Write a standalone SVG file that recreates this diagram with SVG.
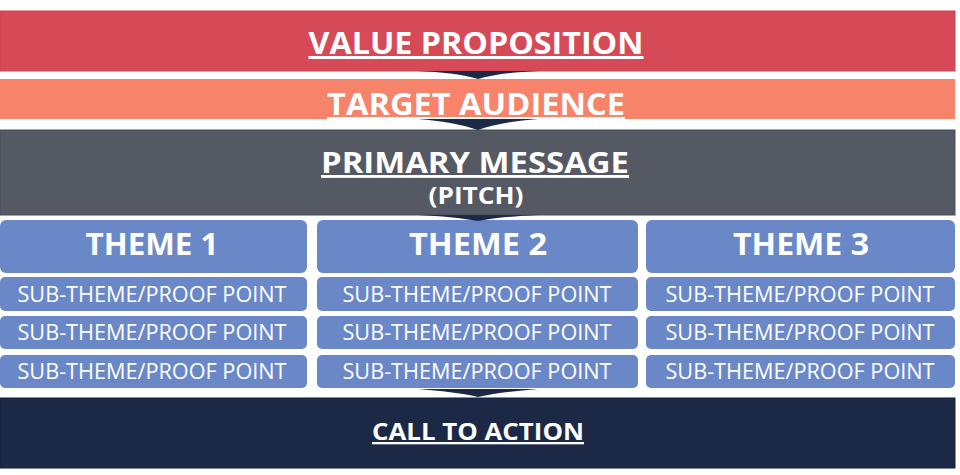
<svg xmlns="http://www.w3.org/2000/svg" width="960" height="475" viewBox="0 0 960 475">
<style>
.h{font-family:"Open Sans","Liberation Sans",sans-serif;font-weight:700;fill:#fff;text-anchor:middle;text-decoration:underline}
.p{font-family:"Open Sans","Liberation Sans",sans-serif;font-weight:700;fill:#fff;text-anchor:middle}
.t{font-family:"Open Sans","Liberation Sans",sans-serif;font-weight:700;fill:#fff;text-anchor:middle;font-size:30px}
.s{font-family:"Open Sans","Liberation Sans",sans-serif;font-weight:400;fill:#fff;text-anchor:middle;font-size:21px}
.box{fill:#6a88c8}
.chev{fill:#1c2946}
</style>
<rect width="960" height="475" fill="#fff"/>
<g id="value-proposition">
<rect x="0" y="11" width="955" height="60" fill="#d64a58" stroke="#cf3f4e" stroke-width="1"/>
<text class="h" x="476" y="54" font-size="30" textLength="335" lengthAdjust="spacingAndGlyphs">VALUE PROPOSITION</text>
</g>
<g id="target-audience">
<rect x="0" y="79" width="955" height="40" fill="#f7836b"/>
<text class="h" x="476" y="115" font-size="30" textLength="298" lengthAdjust="spacingAndGlyphs">TARGET AUDIENCE</text>
</g>
<g id="primary-message">
<rect x="0" y="130" width="955" height="85" fill="#555964" stroke="#4a4e58" stroke-width="1"/>
<text class="h" x="475" y="173" font-size="29" textLength="308" lengthAdjust="spacingAndGlyphs">PRIMARY MESSAGE</text>
<text class="p" x="476" y="204" font-size="23" textLength="95" lengthAdjust="spacingAndGlyphs">(PITCH)</text>
</g>
<g id="theme-1">
<rect class="box" x="0" y="220" width="307" height="53" rx="6"/>
<text class="t" x="152" y="255" textLength="133" lengthAdjust="spacingAndGlyphs">THEME 1</text>
</g>
<g id="theme-2">
<rect class="box" x="317" y="220" width="321" height="53" rx="6"/>
<text class="t" x="478" y="255" textLength="138" lengthAdjust="spacingAndGlyphs">THEME 2</text>
</g>
<g id="theme-3">
<rect class="box" x="646" y="220" width="309" height="53" rx="6"/>
<text class="t" x="801" y="255" textLength="136" lengthAdjust="spacingAndGlyphs">THEME 3</text>
</g>
<g id="sub-1-1"><rect class="box" x="0" y="277" width="307" height="34" rx="5"/><text class="s" x="152" y="302" textLength="269" lengthAdjust="spacingAndGlyphs">SUB-THEME/PROOF POINT</text></g>
<g id="sub-1-2"><rect class="box" x="0" y="316" width="307" height="33" rx="5"/><text class="s" x="152" y="340" textLength="269" lengthAdjust="spacingAndGlyphs">SUB-THEME/PROOF POINT</text></g>
<g id="sub-1-3"><rect class="box" x="0" y="355" width="307" height="33" rx="5"/><text class="s" x="152" y="379" textLength="269" lengthAdjust="spacingAndGlyphs">SUB-THEME/PROOF POINT</text></g>
<g id="sub-2-1"><rect class="box" x="317" y="277" width="321" height="34" rx="5"/><text class="s" x="477" y="302" textLength="269" lengthAdjust="spacingAndGlyphs">SUB-THEME/PROOF POINT</text></g>
<g id="sub-2-2"><rect class="box" x="317" y="316" width="321" height="33" rx="5"/><text class="s" x="477" y="340" textLength="269" lengthAdjust="spacingAndGlyphs">SUB-THEME/PROOF POINT</text></g>
<g id="sub-2-3"><rect class="box" x="317" y="355" width="321" height="33" rx="5"/><text class="s" x="477" y="379" textLength="269" lengthAdjust="spacingAndGlyphs">SUB-THEME/PROOF POINT</text></g>
<g id="sub-3-1"><rect class="box" x="646" y="277" width="309" height="34" rx="5"/><text class="s" x="800" y="302" textLength="269" lengthAdjust="spacingAndGlyphs">SUB-THEME/PROOF POINT</text></g>
<g id="sub-3-2"><rect class="box" x="646" y="316" width="309" height="33" rx="5"/><text class="s" x="800" y="340" textLength="269" lengthAdjust="spacingAndGlyphs">SUB-THEME/PROOF POINT</text></g>
<g id="sub-3-3"><rect class="box" x="646" y="355" width="309" height="33" rx="5"/><text class="s" x="800" y="379" textLength="269" lengthAdjust="spacingAndGlyphs">SUB-THEME/PROOF POINT</text></g>
<g id="call-to-action">
<rect x="0" y="398" width="955" height="70" fill="#1c2946" stroke="#141f38" stroke-width="1"/>
<text class="h" x="478" y="440" font-size="23" textLength="212" lengthAdjust="spacingAndGlyphs">CALL TO ACTION</text>
</g>
<g id="connectors">
<path class="chev" d="M418,71 L538,71 C515,72 495,74 478,79 C461,74 441,72 418,71 Z"/>
<path class="chev" d="M418,119 L538,119 C515,121 495,124 478,130 C461,124 441,121 418,119 Z"/>
<path class="chev" d="M418,215 L538,215 C515,216 495,218 478,221 C461,218 441,216 418,215 Z"/>
<path class="chev" d="M418,389 L538,389 C515,391 495,393 478,397 C461,393 441,391 418,389 Z"/>
</g>
</svg>
